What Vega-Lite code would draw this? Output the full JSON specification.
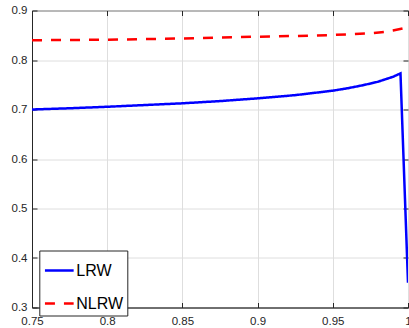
{
  "$schema": "https://vega.github.io/schema/vega-lite/v6.json",
  "width": 376,
  "height": 297,
  "autosize": {"type": "none"},
  "padding": {"left": 32, "top": 10.5, "right": 1, "bottom": 20.5},
  "background": "white",
  "config": {
    "view": {"stroke": "#262626", "strokeWidth": 1},
    "font": "Liberation Sans",
    "axis": {
      "labelFont": "Liberation Sans",
      "labelFontSize": 11.5,
      "labelColor": "#262626",
      "domainColor": "#262626",
      "tickColor": "#262626",
      "gridColor": "#dedede",
      "gridWidth": 1,
      "title": null
    }
  },
  "data": {
    "values": [
      {"series": "LRW", "x": 0.75, "y": 0.700},
      {"series": "LRW", "x": 0.775, "y": 0.7025},
      {"series": "LRW", "x": 0.8, "y": 0.7055},
      {"series": "LRW", "x": 0.825, "y": 0.709},
      {"series": "LRW", "x": 0.85, "y": 0.7125},
      {"series": "LRW", "x": 0.875, "y": 0.717},
      {"series": "LRW", "x": 0.9, "y": 0.7225},
      {"series": "LRW", "x": 0.925, "y": 0.729},
      {"series": "LRW", "x": 0.95, "y": 0.738},
      {"series": "LRW", "x": 0.96, "y": 0.743},
      {"series": "LRW", "x": 0.97, "y": 0.749},
      {"series": "LRW", "x": 0.98, "y": 0.756},
      {"series": "LRW", "x": 0.985, "y": 0.761},
      {"series": "LRW", "x": 0.99, "y": 0.766},
      {"series": "LRW", "x": 0.995, "y": 0.773},
      {"series": "LRW", "x": 1.0, "y": 0.35},
      {"series": "NLRW", "x": 0.75, "y": 0.840},
      {"series": "NLRW", "x": 0.8, "y": 0.841},
      {"series": "NLRW", "x": 0.85, "y": 0.8435},
      {"series": "NLRW", "x": 0.875, "y": 0.8455},
      {"series": "NLRW", "x": 0.9, "y": 0.847},
      {"series": "NLRW", "x": 0.925, "y": 0.8485},
      {"series": "NLRW", "x": 0.95, "y": 0.8505},
      {"series": "NLRW", "x": 0.975, "y": 0.854},
      {"series": "NLRW", "x": 0.985, "y": 0.857},
      {"series": "NLRW", "x": 0.99, "y": 0.8595},
      {"series": "NLRW", "x": 1.0, "y": 0.866}
    ]
  },
  "layer": [
    {
      "mark": {"type": "line", "strokeWidth": 2.5, "clip": true},
      "encoding": {
        "x": {
          "field": "x", "type": "quantitative",
          "scale": {"domain": [0.75, 1], "nice": false, "zero": false},
          "axis": {"values": [0.75, 0.8, 0.85, 0.9, 0.95, 1], "format": "~g", "tickSize": -5, "labelPadding": 12.5, "orient": "bottom", "labelFlush": false}
        },
        "y": {
          "field": "y", "type": "quantitative",
          "scale": {"domain": [0.3, 0.9], "nice": false, "zero": false},
          "axis": {"values": [0.3, 0.4, 0.5, 0.6, 0.7, 0.8, 0.9], "format": "~g", "tickSize": -5, "labelPadding": 10, "orient": "left"}
        },
        "color": {
          "field": "series", "type": "nominal",
          "scale": {"domain": ["LRW", "NLRW"], "range": ["#0000ff", "#ff0000"]},
          "legend": {
            "title": null,
            "orient": "none",
            "legendX": 7.3,
            "legendY": 240,
            "symbolType": "stroke",
            "symbolSize": 824,
            "symbolStrokeWidth": 2.5,
            "labelFontSize": 16,
            "labelFont": "Liberation Sans",
            "labelColor": "#000000",
            "labelOffset": 1,
            "strokeColor": "#262626",
            "fillColor": "white",
            "padding": 4,
            "rowPadding": 9
          }
        },
        "strokeDash": {
          "field": "series", "type": "nominal",
          "scale": {"domain": ["LRW", "NLRW"], "range": [[1, 0], [10, 9]]},
          "legend": {
            "title": null,
            "orient": "none",
            "legendX": 7.3,
            "legendY": 240,
            "symbolType": "stroke",
            "symbolSize": 824,
            "symbolStrokeWidth": 2.5,
            "labelFontSize": 16,
            "labelFont": "Liberation Sans",
            "labelColor": "#000000",
            "labelOffset": 1,
            "strokeColor": "#262626",
            "fillColor": "white",
            "padding": 4,
            "rowPadding": 9
          }
        }
      }
    },
    {
      "mark": {"type": "line", "strokeOpacity": 0},
      "encoding": {
        "x": {"field": "x", "type": "quantitative", "axis": {"orient": "top", "labels": false, "grid": false, "domain": false, "tickSize": -5, "values": [0.75, 0.8, 0.85, 0.9, 0.95, 1]}},
        "y": {"field": "y", "type": "quantitative", "axis": {"orient": "right", "labels": false, "grid": false, "domain": false, "tickSize": -5, "values": [0.3, 0.4, 0.5, 0.6, 0.7, 0.8, 0.9]}},
        "detail": {"field": "series"}
      }
    }
  ],
  "resolve": {"axis": {"x": "independent", "y": "independent"}}
}
